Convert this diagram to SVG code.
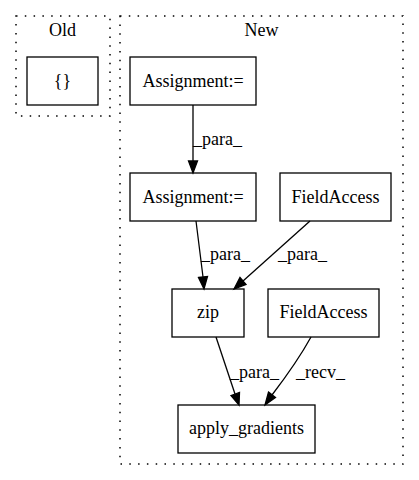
<svg xmlns="http://www.w3.org/2000/svg" width="419" height="480" viewBox="0 0 419 480">
<style>
text{font-family:"Liberation Serif","Times New Roman",serif;font-size:18px;fill:#000}
.c{fill:none;stroke:#000;stroke-dasharray:1.5,7.3;stroke-width:1.5}
.n{fill:#fff;stroke:#000;stroke-width:1.3}
.e{fill:none;stroke:#000;stroke-width:1.3}
.m{fill:#000;stroke:#000;stroke-width:1.3}
</style>
<rect width="419" height="480" fill="#fff"/>
<g id="cluster_old">
<rect class="c" x="16" y="16" width="94" height="100"/>
<text x="62.5" y="36" text-anchor="middle">Old</text>
</g>
<g id="cluster_new">
<rect class="c" x="120" y="16" width="283" height="448"/>
<text x="261.5" y="36" text-anchor="middle">New</text>
</g>
<g id="old_braces">
<rect class="n" x="27" y="57" width="71" height="48"/>
<text x="62.5" y="87" text-anchor="middle">{}</text>
</g>
<g id="assign1">
<rect class="n" x="130" y="57" width="126" height="48"/>
<text x="193" y="87" text-anchor="middle">Assignment:=</text>
</g>
<g id="assign2">
<rect class="n" x="130" y="173" width="126" height="48"/>
<text x="193" y="203" text-anchor="middle">Assignment:=</text>
</g>
<g id="fieldaccess1">
<rect class="n" x="280" y="173" width="111" height="48"/>
<text x="335.5" y="203" text-anchor="middle">FieldAccess</text>
</g>
<g id="zip">
<rect class="n" x="172" y="289" width="72" height="48"/>
<text x="208" y="318" text-anchor="middle">zip</text>
</g>
<g id="fieldaccess2">
<rect class="n" x="268" y="289" width="111" height="48"/>
<text x="323.5" y="318" text-anchor="middle">FieldAccess</text>
</g>
<g id="apply_gradients">
<rect class="n" x="178" y="405" width="137" height="48"/>
<text x="246.5" y="434" text-anchor="middle">apply_gradients</text>
</g>
<g id="connectors">
<path class="e" d="M193,105 L193,161"/>
<polygon class="m" points="188.5,161 197.5,161 193,173"/>
<text x="193" y="145">_para_</text>

<path class="e" d="M196,221 L203,277"/>
<polygon class="m" points="198.5,277.5 207.5,276.5 204,289"/>
<text x="201" y="260">_para_</text>

<path class="e" d="M310,221 L243,281"/>
<polygon class="m" points="240,277.5 246,284.5 234,289"/>
<text x="278" y="260">_para_</text>

<path class="e" d="M216,337 L235,394"/>
<polygon class="m" points="231,395.5 239.5,392.5 239,405"/>
<text x="230" y="378">_para_</text>

<path class="e" d="M311,337 C300,357 285,378 272,395"/>
<polygon class="m" points="268.5,392 275.5,397.5 265,405"/>
<text x="296" y="378">_recv_</text>
</g>
</svg>
